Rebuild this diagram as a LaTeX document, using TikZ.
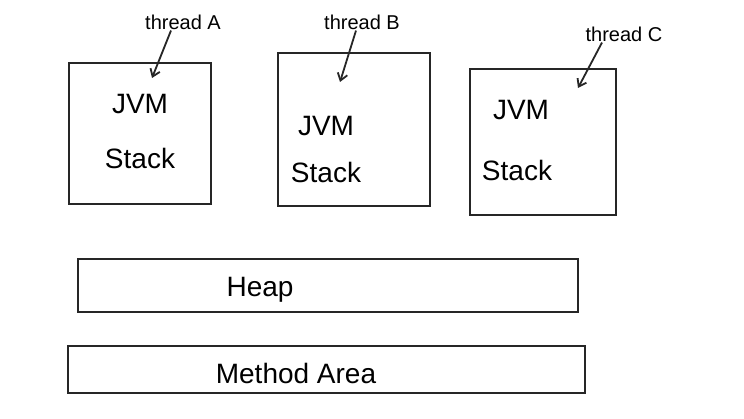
\documentclass[tikz,border=0pt]{standalone}
\usepackage{fontspec}
\setmainfont{Liberation Sans}
\usetikzlibrary{arrows.meta}
\begin{document}
\begin{tikzpicture}[x=1pt,y=-1pt,
  box/.style={draw=black!85, line width=2pt},
  lbl/.style={font=\fontsize{28}{34}\selectfont, align=left, inner sep=0pt},
  tlbl/.style={font=\fontsize{20}{24}\selectfont, inner sep=0pt},
  ptr/.style={draw=black!85, line width=1.8pt, -{Straight Barb[length=7pt,width=10pt]}}]
\useasboundingbox[fill=white] (0,0) rectangle (744,419);
% stacks
\draw[box] (69,63) rectangle (211,204);
\draw[box] (278,53) rectangle (430,206);
\draw[box] (470,69) rectangle (616,215);
\node[lbl] (jA) at (140,104) {JVM};
\node[lbl] (sA) at (140,158) {Stack};
\node[lbl] (jB) at (326,126) {JVM};
\node[lbl] (sB) at (326,172) {Stack};
\node[lbl] (jC) at (521,110) {JVM};
\node[lbl] (sC) at (517,170) {Stack};
% thread labels
\node[tlbl] (tA) at (183,22) {thread A};
\node[tlbl] (tB) at (362,22) {thread B};
\node[tlbl] (tC) at (624,34) {thread C};
\coordinate (eA) at (152,78);
\coordinate (eB) at (340,82);
\coordinate (eC) at (578,88);
\draw[ptr] (tA.south) ++(-12,1) -- (eA);
\draw[ptr] (tB.south) ++(-6,1) -- (eB);
\draw[ptr] (tC.south) ++(-22,1) -- (eC);
% heap and method area
\draw[box] (78,259) rectangle (578,312);
\draw[box] (68,346) rectangle (585,393);
\node[lbl] (heap) at (260,290) {Heap};
\node[lbl] (ma) at (296,373) {Method Area};
\end{tikzpicture}
\end{document}
